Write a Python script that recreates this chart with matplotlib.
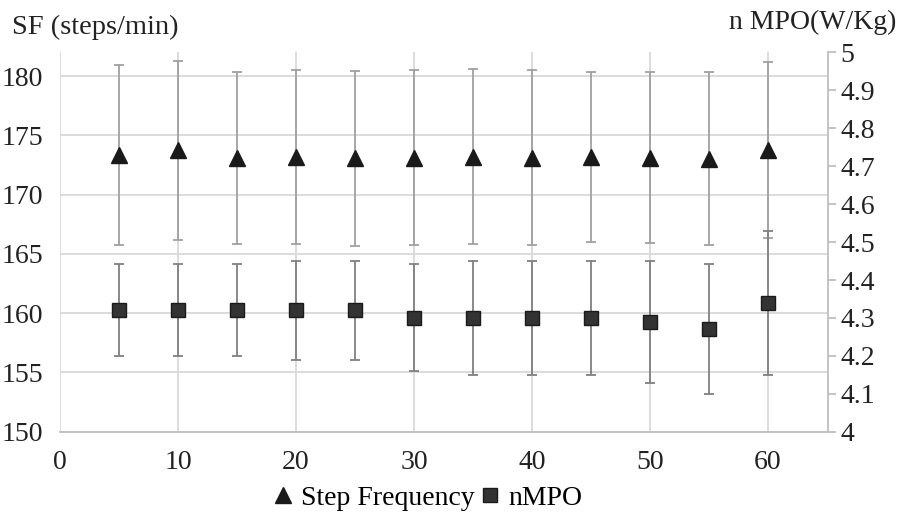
import numpy as np
import matplotlib.pyplot as plt
from matplotlib.lines import Line2D

plt.rcParams['font.family'] = ['Liberation Serif', 'DejaVu Serif']

minutes = [5, 10, 15, 20, 25, 30, 35, 40, 45, 50, 55, 60]
sf_mean = [173.34, 173.74, 173.09, 173.16, 173.06, 173.13, 173.2, 173.13, 173.17, 173.12, 173.05, 173.76]
sf_sd = [7.58, 7.56, 7.27, 7.35, 7.36, 7.37, 7.36, 7.37, 7.14, 7.22, 7.29, 7.44]
mpo_mean = [4.32, 4.32, 4.32, 4.32, 4.32, 4.30, 4.30, 4.30, 4.30, 4.29, 4.27, 4.34]
mpo_sd = [0.121, 0.121, 0.121, 0.13, 0.13, 0.141, 0.151, 0.151, 0.151, 0.161, 0.171, 0.19]

fig = plt.figure(figsize=(8.97, 5.14), dpi=100)
ax = fig.add_axes([0.0669, 0.16, 0.8561, 0.738])
ax2 = ax.twinx()

grid_c = '#d9d9d9'
spine_c = '#bfbfbf'
fs = 20

ax.errorbar(minutes, sf_mean, yerr=sf_sd, fmt='^', color='#1a1a1a', ms=11,
            ecolor='#a0a0a0', elinewidth=1.3, capsize=3.6, capthick=1.3, zorder=3)
ax2.errorbar(minutes, mpo_mean, yerr=mpo_sd, fmt='s', color='#333333', mec='#1a1a1a',
             ms=10, ecolor='#808080', elinewidth=1.3, capsize=3.6, capthick=1.3, zorder=3)

ax.set_xlim(0, 65.1)
ax.set_ylim(150, 182)
ax2.set_ylim(4, 5)
ax.set_xticks(np.arange(0, 61, 10))
ax.set_yticks(np.arange(150, 181, 5))
ax2.set_yticks(np.round(np.arange(4, 5.01, 0.1), 1))
ax2.set_yticklabels(['4'] + ['%.1f' % v for v in np.arange(4.1, 4.95, 0.1)] + ['5'])

ax.grid(True, color=grid_c, lw=1.3)
ax.set_axisbelow(True)
for s in ['top', 'left', 'right']:
    ax.spines[s].set_visible(False)
ax.spines['bottom'].set_color(spine_c)
ax.spines['bottom'].set_linewidth(1.3)
for s in ['top', 'left', 'bottom']:
    ax2.spines[s].set_visible(False)
ax2.spines['right'].set_color(spine_c)
ax2.spines['right'].set_linewidth(1.3)

ax.tick_params(axis='y', length=0, pad=12, labelsize=fs, labelcolor='#222222')
ax.tick_params(axis='x', length=0, pad=13, labelsize=fs, labelcolor='#222222')
ax2.tick_params(axis='y', length=6, width=1.3, color=spine_c, pad=3,
                labelsize=fs, labelcolor='#222222')

fig.text(0.013, 0.946, 'SF (steps/min)', fontsize=20.5, color='#222222', va='center')
fig.text(0.999, 0.956, 'n MPO(W/Kg)', fontsize=fs, color='#222222', va='center', ha='right')

handles = [Line2D([], [], marker='^', ls='none', color='#1a1a1a', ms=11),
           Line2D([], [], marker='s', ls='none', color='#333333', mec='#1a1a1a', ms=10)]
fig.legend(handles, ['Step Frequency', 'nMPO'], loc='center', bbox_to_anchor=(0.477, 0.031),
           ncol=2, frameon=False, fontsize=fs, handlelength=0.7, handletextpad=0.3,
           columnspacing=0.2, borderpad=0)

fig.savefig('out.png', dpi=100)
